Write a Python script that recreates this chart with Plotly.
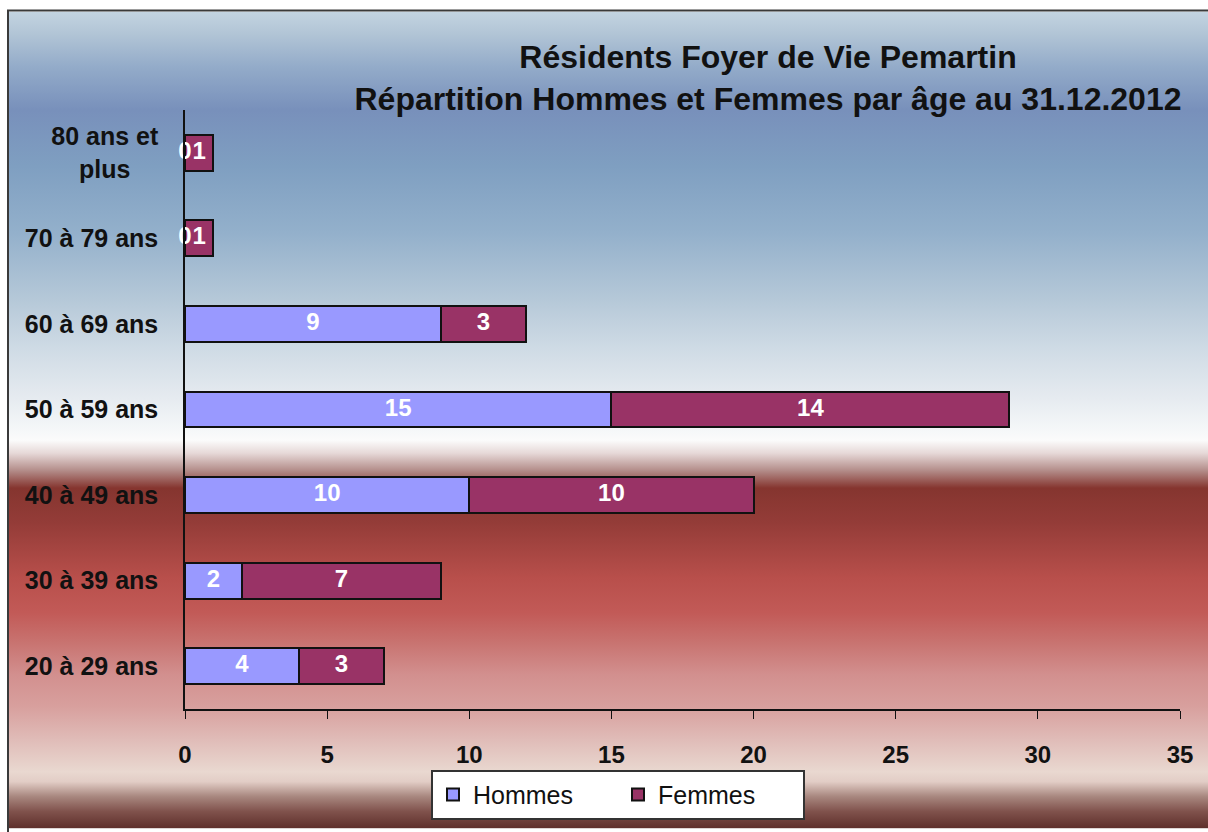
import base64
import plotly.graph_objects as go

# ---- data ----
categories = ["20 à 29 ans", "30 à 39 ans", "40 à 49 ans", "50 à 59 ans",
              "60 à 69 ans", "70 à 79 ans", "80 ans et plus"]
category_labels = ["20 à 29 ans", "30 à 39 ans", "40 à 49 ans", "50 à 59 ans",
                   "60 à 69 ans", "70 à 79 ans",
                   "80 ans et<br>plus\u00a0\u00a0\u00a0\u00a0"]
hommes = [4, 2, 10, 15, 9, 0, 0]
femmes = [3, 7, 10, 14, 3, 1, 1]
x_ticks = [0, 5, 10, 15, 20, 25, 30, 35]

title_text = ("Résidents Foyer de Vie Pemartin<br>"
              "Répartition Hommes et Femmes par âge au 31.12.2012")

FONT = "Liberation Sans, Arial, sans-serif"
W, H = 1208, 832
L, R, T, B = 185, 28, 110, 120
pw, ph = W - L - R, H - T - B


def px_x(x):  # page x -> paper fraction
    return (x - L) / pw


def px_y(y):  # page y -> paper fraction
    return (H - B - y) / ph


# ---- background gradient (SVG) ----
stops = [
    (11, "#c3d4e1"), (33, "#b2c5d6"), (67, "#93abc9"), (110, "#7890bb"),
    (167, "#7f9fc1"), (233, "#93b0cb"), (300, "#b5c8d8"), (350, "#cfdbe5"),
    (400, "#e6ebf0"), (425, "#f2f5f7"), (442, "#fbfbfb"), (455, "#e6d8d7"),
    (472, "#b48e8b"), (490, "#85352f"), (525, "#943c38"), (580, "#b84f4b"),
    (615, "#c25a57"), (645, "#c87370"), (677, "#d28f8e"), (710, "#d8a09e"),
    (743, "#e0bcb8"), (775, "#e9d8d0"), (785, "#e2cdc6"), (800, "#a8877f"),
    (815, "#80524c"), (832, "#5e2f2b"),
]
y0, y1 = 11, 832
stop_xml = "".join(
    f'<stop offset="{(y - y0) / (y1 - y0):.4f}" stop-color="{c}"/>' for y, c in stops
)
svg = (
    '<svg xmlns="http://www.w3.org/2000/svg" width="100" height="821" '
    'preserveAspectRatio="none" viewBox="0 0 100 821">'
    f'<defs><linearGradient id="g" x1="0" y1="0" x2="0" y2="1">{stop_xml}</linearGradient></defs>'
    '<rect x="0" y="0" width="100" height="821" fill="url(#g)"/></svg>'
)
svg_uri = "data:image/svg+xml;base64," + base64.b64encode(svg.encode()).decode()

fig = go.Figure()

fig.add_trace(go.Bar(
    name="Hommes", y=categories, x=hommes, orientation="h",
    marker=dict(color="#9999ff", line=dict(color="#111111", width=2)),
    hoverinfo="x+name",
))
fig.add_trace(go.Bar(
    name="Femmes", y=categories, x=femmes, orientation="h",
    marker=dict(color="#993366", line=dict(color="#111111", width=2)),
    hoverinfo="x+name",
))

# data labels centred in each segment (computed from the data)
label_x = [h / 2 for h in hommes] + [h + f / 2 for h, f in zip(hommes, femmes)]
label_y = categories + categories
label_t = [str(v) for v in hommes] + [str(v) for v in femmes]
fig.add_trace(go.Scatter(
    x=label_x, y=label_y, text=label_t, mode="text", cliponaxis=False,
    textfont=dict(family=FONT, size=24, color="white", weight="bold"),
    showlegend=False, hoverinfo="skip",
))

fig.update_layout(
    width=W, height=H,
    margin=dict(l=L, r=R, t=T, b=B),
    barmode="stack", bargap=0.58,
    paper_bgcolor="white", plot_bgcolor="rgba(0,0,0,0)",
    font=dict(family=FONT, color="#111111"),
    title=dict(
        text=title_text, x=768 / W, xanchor="center", xref="container",
        y=1 - 68 / H, yanchor="top", yref="container",
        font=dict(family=FONT, size=32, color="#111111", weight="bold"),
    ),
    xaxis=dict(
        range=[0, 35], tickvals=x_ticks, ticks="outside", ticklen=8,
        tickcolor="#111111", showline=True, linecolor="#111111", linewidth=1.5,
        showgrid=False, zeroline=False, ticklabelstandoff=15,
        tickfont=dict(family=FONT, size=24, color="#111111", weight="bold"),
    ),
    yaxis=dict(
        categoryorder="array", categoryarray=categories,
        tickvals=categories, ticktext=category_labels,
        showline=True, linecolor="#111111", linewidth=1.5, ticks="",
        showgrid=False, zeroline=False, ticklabelstandoff=20,
        tickfont=dict(family=FONT, size=25, color="#111111", weight="bold"),
    ),
    legend=dict(
        orientation="h", traceorder="normal",
        x=px_x(618), xanchor="center", y=px_y(773), yanchor="top",
        bgcolor="white", bordercolor="#333333", borderwidth=2,
        font=dict(family=FONT, size=25, color="#111111"),
        entrywidth=140, itemclick=False,
    ),
    images=[dict(
        source=svg_uri, xref="paper", yref="paper",
        x=px_x(9), y=px_y(11), sizex=(W - 9 + 20) / pw, sizey=(832 - 11) / ph,
        xanchor="left", yanchor="top", sizing="stretch", layer="below",
    )],
    shapes=[dict(
        type="rect", xref="paper", yref="paper",
        x0=px_x(8), y0=px_y(H + 60), x1=px_x(W + 60), y1=px_y(10),
        line=dict(color="#3a3a3a", width=2), fillcolor="rgba(0,0,0,0)",
        layer="below",
    )],
)

fig.write_html(
    "out.html",
    config={"displayModeBar": False},
    post_script="document.body.style.margin='0';document.body.style.overflow='hidden';",
)
